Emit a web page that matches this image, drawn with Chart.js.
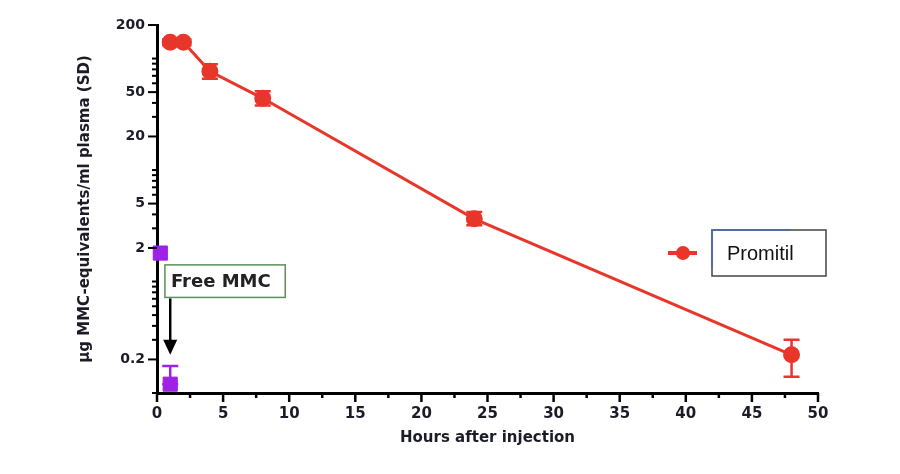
<!DOCTYPE html>
<html>
<head>
<meta charset="utf-8">
<script src="https://cdn.jsdelivr.net/npm/chart.js@4.4.1/dist/chart.umd.min.js"></script>
<style>
  html, body { margin: 0; padding: 0; background: #fff; }
  #wrap { width: 900px; height: 474px; }
</style>
</head>
<body>
<div id="wrap"><canvas id="chart" width="900" height="474"></canvas></div>
<script>
// hours after injection
const promitilHours = [1, 2, 4, 8, 24, 48];
const promitilMean = [140, 140, 77, 44, 3.65, 0.22];
const promitilSdLow = [132, 132, 66, 38, 3.2, 0.14];
const promitilSdHigh = [148, 148, 89, 51, 4.2, 0.30];

const freeHours = [0.25, 1];
const freeMean = [1.8, 0.12];
const freeSdLow = [1.8, 0.12];
const freeSdHigh = [1.8, 0.175];

const yTickValues = [0.1,0.2,0.3,0.4,0.5,0.6,0.7,0.8,0.9,1,2,3,4,5,6,7,8,9,10,20,30,40,50,60,70,80,90,100,200];
const yTickLabels = [0.2, 2, 5, 20, 50, 200];
const xTickValues = [0,2.5,5,7.5,10,12.5,15,17.5,20,22.5,25,27.5,30,32.5,35,37.5,40,42.5,45,47.5,50];

const RED = '#e8362b';
const PURPLE = '#9d22e6';
const FONT = '"DejaVu Sans", Arial, sans-serif';

const errorBars = {
    id: 'errorBars',
    afterDatasetsDraw(chart) {
        const ctx = chart.ctx;
        const x = chart.scales.x, y = chart.scales.y;
        const sets = [
            { hours: promitilHours, lo: promitilSdLow, hi: promitilSdHigh, color: RED },
            { hours: freeHours, lo: freeSdLow, hi: freeSdHigh, color: PURPLE }
        ];
        ctx.save();
        ctx.lineWidth = 2.5;
        sets.forEach(s => {
            ctx.strokeStyle = s.color;
            s.hours.forEach((h, i) => {
                if (s.lo[i] === s.hi[i]) return;
                const px = x.getPixelForValue(h);
                const top = y.getPixelForValue(s.hi[i]);
                const bot = y.getPixelForValue(s.lo[i]);
                ctx.beginPath();
                ctx.moveTo(px, top); ctx.lineTo(px, bot);
                ctx.moveTo(px - 8, top); ctx.lineTo(px + 8, top);
                ctx.moveTo(px - 8, bot); ctx.lineTo(px + 8, bot);
                ctx.stroke();
            });
        });
        ctx.restore();
    }
};

const axisTicks = {
    id: 'axisTicks',
    afterDraw(chart) {
        const ctx = chart.ctx;
        const x = chart.scales.x, y = chart.scales.y;
        const area = chart.chartArea;
        ctx.save();
        ctx.strokeStyle = '#000';
        ctx.lineWidth = 2.5;
        xTickValues.forEach(v => {
            const px = x.getPixelForValue(v);
            const len = v % 5 === 0 ? 9 : 5;
            ctx.beginPath();
            ctx.moveTo(px, area.bottom); ctx.lineTo(px, area.bottom + len);
            ctx.stroke();
        });
        ctx.lineWidth = 2;
        yTickValues.forEach(v => {
            const py = y.getPixelForValue(v);
            const len = yTickLabels.includes(v) ? 9 : 5;
            ctx.beginPath();
            ctx.moveTo(area.left, py); ctx.lineTo(area.left - len, py);
            ctx.stroke();
        });
        ctx.restore();
    }
};

const notes = {
    id: 'notes',
    afterDraw(chart) {
        const ctx = chart.ctx;
        const x = chart.scales.x, y = chart.scales.y;
        const area = chart.chartArea;
        ctx.save();

        // Free MMC label box and arrow
        const bx = x.getPixelForValue(0.6), by = y.getPixelForValue(1.41);
        const bw = x.getPixelForValue(9.7) - bx, bh = y.getPixelForValue(0.72) - by;
        ctx.fillStyle = '#fff';
        ctx.fillRect(bx, by, bw, bh);
        ctx.strokeStyle = '#5c8f5c';
        ctx.lineWidth = 1.5;
        ctx.strokeRect(bx, by, bw, bh);
        ctx.fillStyle = '#222';
        ctx.font = 'bold 18px ' + FONT;
        ctx.textBaseline = 'middle';
        ctx.textAlign = 'left';
        ctx.fillText('Free MMC', bx + 6, by + bh / 2 + 1);

        const ax = x.getPixelForValue(1);
        const headTip = y.getPixelForValue(0.22);
        ctx.strokeStyle = '#000';
        ctx.fillStyle = '#000';
        ctx.lineWidth = 2.5;
        ctx.beginPath();
        ctx.moveTo(ax, by + bh + 1); ctx.lineTo(ax, headTip - 12);
        ctx.stroke();
        ctx.beginPath();
        ctx.moveTo(ax - 7, headTip - 15);
        ctx.lineTo(ax + 7, headTip - 15);
        ctx.lineTo(ax, headTip);
        ctx.closePath();
        ctx.fill();

        // legend
        const lx = area.left + 511, ly = area.top + 228;
        ctx.strokeStyle = RED;
        ctx.lineWidth = 4;
        ctx.beginPath();
        ctx.moveTo(lx, ly); ctx.lineTo(lx + 29, ly);
        ctx.stroke();
        ctx.fillStyle = RED;
        ctx.beginPath();
        ctx.arc(lx + 15, ly, 7, 0, Math.PI * 2);
        ctx.fill();

        const rx = lx + 44, ry = ly - 23, rw = 114, rh = 46;
        ctx.strokeStyle = '#444';
        ctx.lineWidth = 1.5;
        ctx.strokeRect(rx, ry, rw, rh);
        ctx.strokeStyle = '#4a6eb0';
        ctx.beginPath();
        ctx.moveTo(rx, ry + rh - 8); ctx.lineTo(rx, ry); ctx.lineTo(rx + 78, ry);
        ctx.stroke();
        ctx.fillStyle = '#111';
        ctx.font = '20px "Liberation Sans", Arial, sans-serif';
        ctx.textAlign = 'left';
        ctx.fillText('Promitil', rx + 15, ly + 1);
        ctx.restore();
    }
};

new Chart(document.getElementById('chart'), {
    type: 'scatter',
    data: {
        datasets: [
            {
                label: 'Promitil',
                data: promitilHours.map((h, i) => ({ x: h, y: promitilMean[i] })),
                showLine: true,
                borderColor: RED,
                backgroundColor: RED,
                borderWidth: 3,
                pointRadius: 7,
                pointHoverRadius: 7
            },
            {
                label: 'Free MMC',
                data: freeHours.map((h, i) => ({ x: h, y: freeMean[i] })),
                showLine: false,
                pointStyle: 'rect',
                borderColor: PURPLE,
                backgroundColor: PURPLE,
                pointRadius: 10,
                pointHoverRadius: 10
            }
        ]
    },
    options: {
        responsive: false,
        animation: false,
        clip: false,
        layout: { padding: { left: 76, right: 82, top: 25, bottom: 27 } },
        plugins: {
            legend: { display: false },
            tooltip: { enabled: false }
        },
        scales: {
            x: {
                type: 'linear',
                min: 0,
                max: 50,
                afterFit(scale) { scale.height = 54; },
                afterBuildTicks(scale) { scale.ticks = xTickValues.map(v => ({ value: v })); },
                grid: { display: false },
                border: { display: true, color: '#000', width: 3 },
                ticks: {
                    autoSkip: false,
                    maxRotation: 0,
                    padding: 4,
                    color: '#1c1c28',
                    font: { family: FONT, size: 15, weight: 'bold' },
                    callback: v => (v % 5 === 0 ? String(v) : '')
                },
                title: {
                    display: true,
                    text: 'Hours after injection',
                    color: '#1c1c28',
                    padding: 0,
                    font: { family: FONT, size: 15, weight: 'bold' }
                }
            },
            y: {
                type: 'logarithmic',
                min: 0.1,
                max: 200,
                afterFit(scale) { scale.width = 81; },
                afterBuildTicks(scale) { scale.ticks = yTickValues.map(v => ({ value: v })); },
                grid: { display: false },
                border: { display: true, color: '#000', width: 3 },
                ticks: {
                    autoSkip: false,
                    padding: 4,
                    color: '#1c1c28',
                    font: { family: FONT, size: 14, weight: 'bold' },
                    callback: v => (yTickLabels.includes(v) ? String(v) : '')
                },
                title: {
                    display: true,
                    text: 'µg MMC-equivalents/ml plasma (SD)',
                    color: '#1c1c28',
                    padding: 0,
                    font: { family: FONT, size: 15, weight: 'bold' }
                }
            }
        }
    },
    plugins: [errorBars, axisTicks, notes]
});
</script>
</body>
</html>
